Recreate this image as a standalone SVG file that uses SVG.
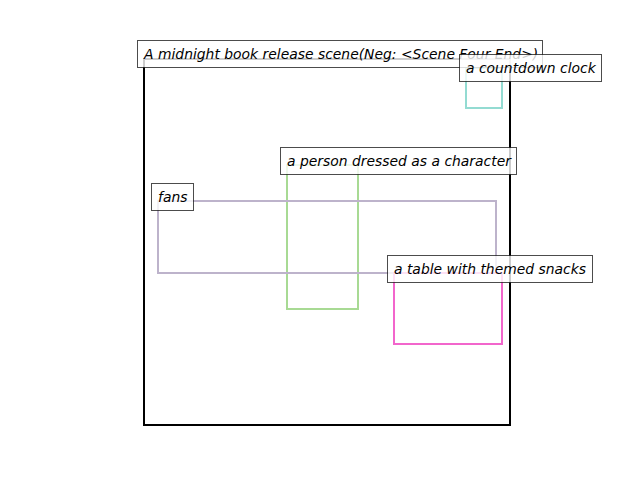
<svg xmlns="http://www.w3.org/2000/svg" width="640" height="480" viewBox="0 0 640 480">
<style>
.lbl rect{fill:#ffffff;fill-opacity:0.8;stroke:#000;stroke-opacity:0.7;stroke-width:1}
.lbl text{font-family:"DejaVu Sans",sans-serif;font-style:oblique;font-size:13.9px;fill:#000}
.box{fill:none;stroke-width:2}
</style>
<rect width="640" height="480" fill="#fff"/>
<g id="scene"><rect class="box" x="144" y="59" width="366" height="366" stroke="#000"/></g>
<g id="clock"><rect class="box" x="466" y="68" width="36" height="40" stroke="#93dbd2"/></g>
<g id="person"><rect class="box" x="287" y="165" width="71" height="144" stroke="#a8da94"/></g>
<g id="fans"><rect class="box" x="158" y="201" width="338" height="72" stroke="#bdb3cb"/></g>
<g id="table"><rect class="box" x="394" y="273" width="108" height="71" stroke="#f266cc"/></g>
<g id="labels">
<g class="lbl" id="l-scene"><rect x="137.5" y="40.5" width="405" height="27"/><text x="144" y="59">A midnight book release scene(Neg: &lt;Scene Four End&gt;)</text></g>
<g class="lbl" id="l-clock"><rect x="459.5" y="54.5" width="142" height="27"/><text x="466" y="73">a countdown clock</text></g>
<g class="lbl" id="l-person"><rect x="280.5" y="147.5" width="236" height="27"/><text x="287" y="166">a person dressed as a character</text></g>
<g class="lbl" id="l-fans"><rect x="151.5" y="183.5" width="42" height="27"/><text x="158" y="202">fans</text></g>
<g class="lbl" id="l-table"><rect x="387.5" y="255.5" width="205" height="27"/><text x="394" y="274">a table with themed snacks</text></g>
</g>
</svg>
